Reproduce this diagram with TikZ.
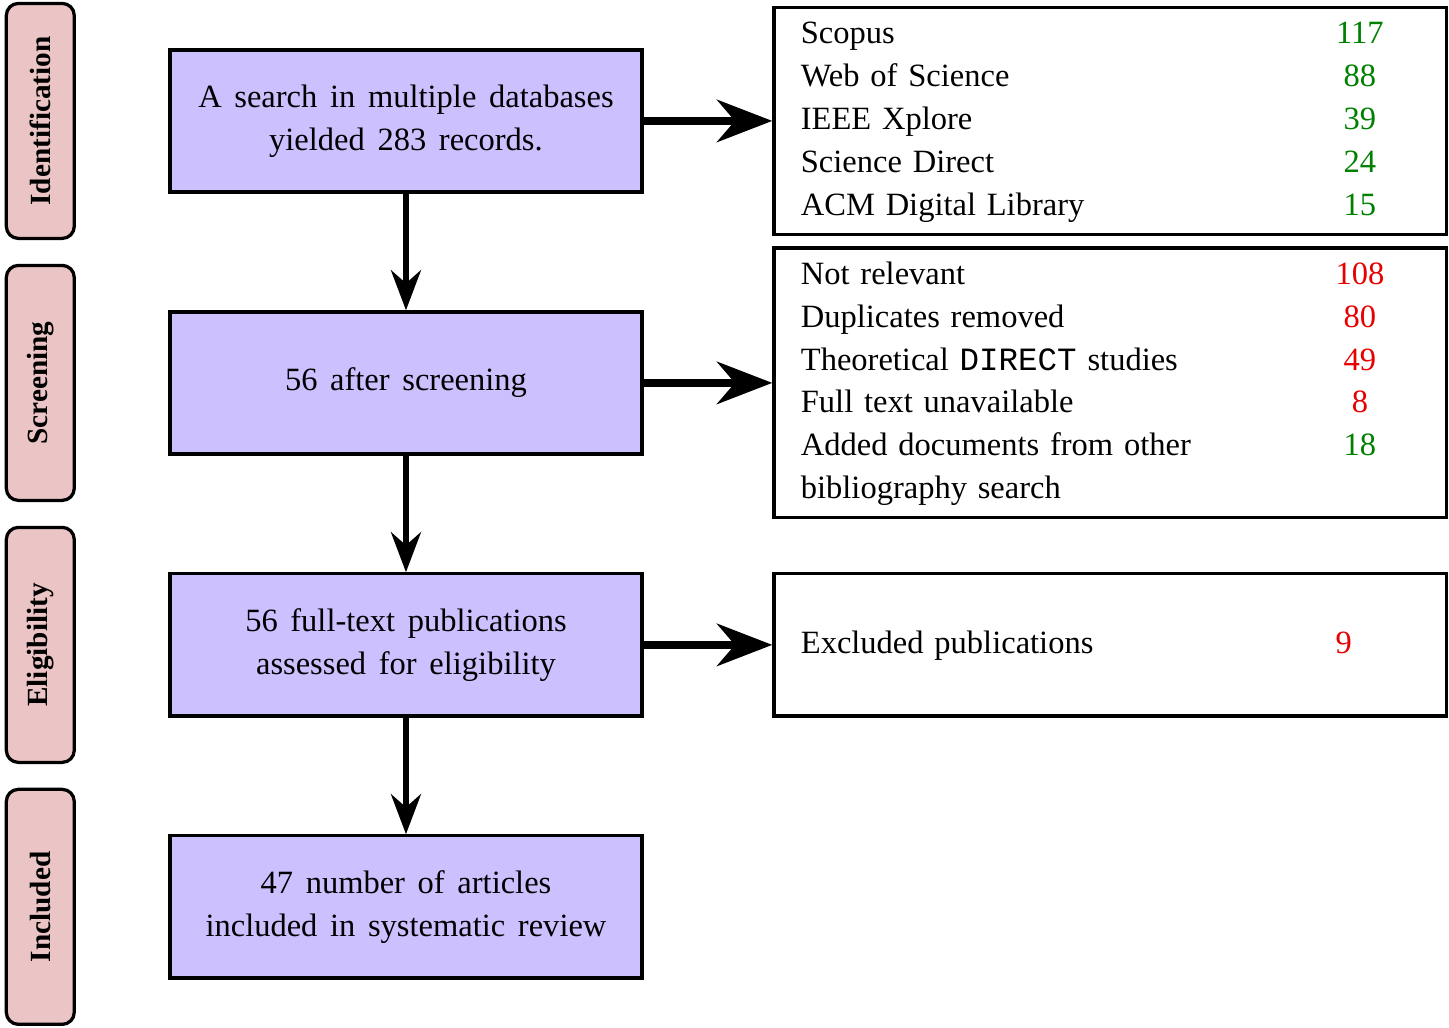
\documentclass[tikz,border=0pt]{standalone}
\usepackage{fontspec}
\setmainfont{Liberation Serif}
\setmonofont{Liberation Mono}
\usepackage{xcolor}
\usetikzlibrary{arrows.meta, positioning}
\definecolor{stagepink}{RGB}{235,197,197}
\definecolor{boxlilac}{RGB}{205,192,255}
\definecolor{keptgreen}{RGB}{0,128,0}
\definecolor{droppedred}{RGB}{230,0,0}
\renewcommand{\arraystretch}{1.1}
\newcommand{\kept}[1]{\makebox[24pt]{\textcolor{keptgreen}{#1}}}
\newcommand{\dropped}[1]{\makebox[24pt]{\textcolor{droppedred}{#1}}}
\newcommand{\stagefont}{\linespread{1.1}\selectfont\spaceskip=3.9pt plus 1pt minus 1pt\relax}
\newcommand{\countfont}{\spaceskip=3.3pt plus 1pt minus 1pt\relax}

\begin{document}
\begin{tikzpicture}[node distance=35.9pt and 39.6pt,
    stagebox/.style={draw, line width=1pt, fill=boxlilac, minimum width=145.2pt, minimum height=43.7pt, align=center, font=\stagefont},
    phaselabel/.style={draw, line width=1pt, fill=stagepink, rounded corners=3.7pt, rotate=90, minimum width=72.3pt, minimum height=20.9pt, font=\small\bfseries},
    countbox/.style={draw, line width=1pt, inner xsep=8.3pt, inner ysep=1.9pt, text width=190.4pt, align=left, font=\countfont},
    flowarrow/.style={-{Stealth[length=12.3pt, width=9.2pt, inset=4pt]}, line width=1.8pt},
    sidearrow/.style={-{Stealth[length=17pt, width=13pt, inset=5.5pt]}, line width=2.5pt}]
    \useasboundingbox (0,0) rectangle (445.8pt,-316pt);

    % main flow
    \node[stagebox] (search) at (124.9pt,-37.2pt) {A search in multiple databases\\yielded 283 records.};
    \node[stagebox, below=of search] (screen) {56 after screening};
    \node[stagebox, below=of screen] (eligible) {56 full-text publications\\assessed for eligibility};
    \node[stagebox, below=of eligible] (included) {47 number of articles\\included in systematic review};

    % phase labels
    \node[phaselabel] (identlabel) at ([xshift=-39.4pt]search.west) {Identification};
    \node[phaselabel] (screenlabel) at ([xshift=-39.4pt]screen.west) {Screening};
    \node[phaselabel] (eliglabel) at ([xshift=-39.4pt]eligible.west) {Eligibility};
    \node[phaselabel] (incllabel) at ([xshift=-39.4pt]included.west) {Included};

    % counts
    \node[countbox, right=of search] (dbcounts) {%
      \begin{tabular}{@{}p{160pt}@{}c@{}}
        Scopus & \kept{117}\\
        Web of Science & \kept{88}\\
        IEEE Xplore & \kept{39}\\
        Science Direct & \kept{24}\\
        ACM Digital Library & \kept{15}
      \end{tabular}};
    \node[countbox, right=of screen] (screencounts) {%
      \begin{tabular}{@{}p{160pt}@{}c@{}}
        Not relevant & \dropped{108}\\
        Duplicates removed & \dropped{80}\\
        Theoretical \texttt{DIRECT} studies & \dropped{49}\\
        Full text unavailable & \dropped{8}\\
        Added documents from other & \kept{18}\\
        bibliography search &
      \end{tabular}};
    \node[countbox, minimum height=43.7pt, right=of eligible] (eligcounts) {%
      \begin{tabular}{@{}p{155pt}@{}c@{}}
        Excluded publications & \dropped{9}
      \end{tabular}};

    \draw[flowarrow] (search) -- (screen);
    \draw[flowarrow] (screen) -- (eligible);
    \draw[flowarrow] (eligible) -- (included);
    \draw[sidearrow] (search) -- (dbcounts);
    \draw[sidearrow] (screen) -- (screencounts);
    \draw[sidearrow] (eligible) -- (eligcounts);
\end{tikzpicture}
\end{document}
